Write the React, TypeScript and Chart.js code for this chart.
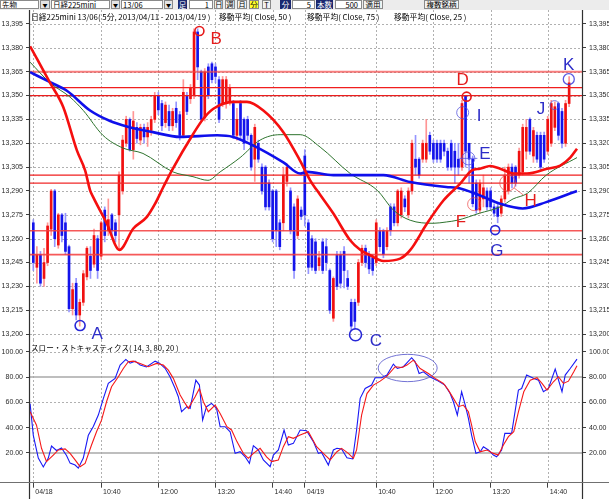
import React, { useEffect, useRef } from "react";
import { Chart, registerables } from "chart.js";

Chart.register(...registerables);

// ---------------- price bars (5-minute) ----------------
const OPEN = [
  13270, 13242, 13250, 13235, 13245, 13266, 13290, 13256, 13275, 13270,
  13255, 13216, 13232, 13212, 13220, 13236, 13249, 13244, 13260, 13249,
  13278, 13265, 13275, 13270, 13275, 13290, 13320, 13335, 13316, 13330,
  13322, 13330, 13324, 13328, 13335, 13350, 13345, 13333, 13340, 13331,
  13342, 13338, 13325, 13350, 13348, 13350, 13390, 13365, 13336, 13368,
  13370, 13368, 13360, 13345, 13345, 13346, 13345, 13325, 13345, 13335,
  13335, 13325, 13310, 13320, 13305, 13305, 13295, 13290, 13290, 13270,
  13270, 13296, 13290, 13280, 13262, 13278, 13312, 13270, 13260, 13258,
  13243, 13258, 13255, 13240, 13210, 13250, 13250, 13252, 13235, 13220,
  13220, 13220, 13245, 13254, 13250, 13248, 13245, 13265, 13265, 13255,
  13280, 13280, 13270, 13275, 13285, 13275, 13290, 13310, 13310, 13310,
  13310, 13325, 13320, 13320, 13320, 13320, 13315, 13320, 13315, 13310,
  13305, 13350, 13320, 13310, 13295, 13278, 13285, 13290, 13290, 13280,
  13280, 13276, 13285, 13290, 13305, 13305, 13300, 13302, 13315, 13335,
  13312, 13325, 13325, 13325, 13315, 13320, 13330, 13345, 13340, 13320,
  13345,
];
const HIGH = [
  13272, 13255, 13252, 13254, 13270, 13291, 13291, 13276, 13276, 13276,
  13256, 13232, 13235, 13222, 13240, 13255, 13255, 13266, 13262, 13271,
  13280, 13285, 13276, 13272, 13302, 13325, 13337, 13336, 13340, 13333,
  13332, 13332, 13333, 13337, 13352, 13352, 13347, 13346, 13344, 13342,
  13346, 13340, 13360, 13352, 13357, 13392, 13392, 13366, 13367, 13370,
  13371, 13370, 13362, 13362, 13362, 13357, 13347, 13342, 13347, 13336,
  13337, 13326, 13332, 13322, 13307, 13306, 13297, 13291, 13291, 13272,
  13305, 13307, 13292, 13282, 13287, 13280, 13316, 13272, 13262, 13260,
  13252, 13260, 13260, 13241, 13236, 13252, 13252, 13255, 13240, 13222,
  13222, 13247, 13256, 13256, 13252, 13250, 13272, 13267, 13266, 13267,
  13282, 13282, 13291, 13292, 13287, 13292, 13322, 13325, 13311, 13322,
  13335, 13327, 13322, 13322, 13322, 13322, 13317, 13322, 13320, 13320,
  13347, 13350, 13320, 13312, 13297, 13297, 13300, 13292, 13292, 13282,
  13282, 13287, 13305, 13307, 13307, 13306, 13317, 13332, 13335, 13336,
  13330, 13327, 13327, 13327, 13337, 13347, 13346, 13346, 13342, 13347,
  13362,
];
const LOW = [
  13240, 13232, 13230, 13230, 13243, 13262, 13255, 13254, 13258, 13250,
  13214, 13212, 13209, 13205, 13218, 13234, 13235, 13242, 13235, 13247,
  13258, 13262, 13262, 13258, 13253, 13288, 13318, 13315, 13310, 13320,
  13319, 13320, 13318, 13325, 13333, 13338, 13328, 13330, 13328, 13328,
  13330, 13322, 13324, 13338, 13345, 13348, 13360, 13333, 13334, 13348,
  13358, 13358, 13333, 13343, 13342, 13344, 13323, 13322, 13323, 13316,
  13322, 13303, 13296, 13308, 13288, 13278, 13278, 13258, 13255, 13253,
  13265, 13293, 13263, 13235, 13260, 13272, 13268, 13238, 13240, 13238,
  13240, 13238, 13240, 13213, 13208, 13228, 13229, 13229, 13228, 13202,
  13203, 13218, 13243, 13242, 13238, 13237, 13243, 13252, 13248, 13253,
  13262, 13268, 13268, 13273, 13277, 13273, 13288, 13300, 13298, 13308,
  13308, 13313, 13308, 13308, 13308, 13312, 13303, 13303, 13295, 13300,
  13303, 13305, 13295, 13280, 13276, 13276, 13280, 13278, 13278, 13274,
  13270, 13274, 13283, 13288, 13292, 13293, 13298, 13300, 13310, 13313,
  13308, 13308, 13303, 13308, 13313, 13318, 13328, 13322, 13317, 13318,
  13343,
];
const CLOSE = [
  13245, 13250, 13232, 13245, 13268, 13290, 13260, 13275, 13262, 13252,
  13216, 13228, 13212, 13220, 13238, 13254, 13240, 13262, 13240, 13270,
  13262, 13272, 13265, 13262, 13300, 13322, 13335, 13316, 13334, 13323,
  13330, 13324, 13330, 13335, 13350, 13341, 13331, 13344, 13331, 13340,
  13333, 13325, 13352, 13340, 13355, 13390, 13368, 13335, 13365, 13350,
  13360, 13362, 13335, 13360, 13360, 13355, 13325, 13335, 13325, 13320,
  13325, 13305, 13330, 13310, 13290, 13280, 13280, 13260, 13265, 13255,
  13300, 13305, 13265, 13240, 13285, 13274, 13275, 13242, 13242, 13240,
  13248, 13240, 13245, 13215, 13235, 13230, 13232, 13240, 13230, 13205,
  13208, 13245, 13254, 13245, 13241, 13240, 13270, 13255, 13250, 13265,
  13265, 13270, 13290, 13290, 13280, 13290, 13320, 13305, 13300, 13320,
  13320, 13315, 13310, 13310, 13310, 13315, 13305, 13305, 13305, 13305,
  13345, 13315, 13310, 13282, 13278, 13295, 13292, 13280, 13280, 13276,
  13274, 13285, 13300, 13305, 13295, 13295, 13315, 13330, 13330, 13315,
  13328, 13310, 13305, 13310, 13335, 13345, 13343, 13325, 13320, 13345,
  13358,
];

// ---------------- moving averages (bar position, value) ----------------
const MA25_IDX = [-0.9, 4.7, 8.4, 12.2, 14.5, 15.9, 16.8, 20.6, 24.1, 28, 31.8, 34.1, 36.4, 38.8, 44.8, 47.6, 50.4, 56, 59.8, 64.4, 70, 74.7, 77.5, 79.4, 84, 88.7, 91.5, 94.3, 98, 102.7, 105.5, 110.2, 114.8, 119.5, 122.8, 125, 127.9, 130.7, 134.5, 138.2, 143.8, 147.5, 150.3, 152.2];
const MA25 = [13381, 13358, 13342.7, 13315.5, 13303, 13290.4, 13286, 13269.5, 13253, 13266.4, 13273.7, 13282, 13292.5, 13303, 13326, 13335.4, 13341.7, 13346, 13346, 13340.6, 13327, 13309, 13296.7, 13290.4, 13275.8, 13259, 13253, 13249.6, 13246, 13247.5, 13252.8, 13269.5, 13284, 13294.6, 13303, 13304, 13305.7, 13304, 13301, 13301, 13304, 13306, 13311, 13316.6];

const MA50_IDX = [-0.9, 4.7, 10.3, 14, 19.5, 25.1, 30.7, 39.1, 44.7, 48.9, 52.3, 57.9, 63.5, 69.1, 74.7, 80.3, 88.7, 96.3, 100.8, 105.5, 112, 115.6, 118.7, 124.9, 130.7, 134.3, 138.3, 143.6, 152.2];
const MA50 = [13371, 13358, 13349, 13340.6, 13325, 13317, 13313.6, 13302, 13299, 13296.7, 13302, 13311, 13322, 13325.4, 13325.4, 13317.6, 13301, 13290.4, 13278, 13271.6, 13269.7, 13270.5, 13271.6, 13276, 13280, 13285, 13288.5, 13300, 13311];

const MA75_IDX = [-0.9, 4.7, 9.4, 15.9, 21.5, 26.2, 33.5, 41.1, 51.5, 55.9, 61.5, 70, 74.7, 76.6, 84, 98, 105.5, 115.6, 118.6, 124.9, 130.7, 137, 143.6, 152.2];
const MA75 = [13364.7, 13358.4, 13353, 13340.6, 13334, 13330.6, 13327, 13324, 13325, 13324, 13318.7, 13308, 13301, 13302, 13300, 13300, 13295.6, 13292.5, 13292, 13287.3, 13282, 13279, 13283, 13290];

// ---------------- slow stochastics ----------------
const K_IDX = [-0.9, 0, 1.4, 2.8, 4.2, 5.1, 6.5, 7.9, 9.3, 10.3, 11.7, 12.6, 14, 15.4, 16.8, 18.2, 19.6, 21, 22.9, 24.3, 25.9, 27.1, 28.5, 29.9, 31.7, 34.1, 35.3, 36.9, 38.3, 39.7, 40.6, 41.5, 43, 43.9, 45.5, 46.5, 47.4, 48.5, 49.9, 51.3, 52.3, 53.7, 55.1, 56.5, 57.9, 59.3, 60.5, 61.6, 63, 64.4, 66.3, 67.2, 68.6, 70.2, 71.4, 72.8, 74.7, 76.5, 78.4, 79.8, 80.7, 82.6, 84, 85, 86.3, 87.8, 89.4, 90.5, 91.5, 92.9, 94.7, 95.7, 97.5, 99, 100.8, 101.9, 103.6, 105.9, 106.9, 108, 109.2, 111, 112.9, 115.2, 116.7, 117.6, 118.7, 119.9, 120.9, 121.8, 122.7, 123.9, 125.1, 126, 127.4, 128.8, 129.7, 131.1, 132, 133.9, 135.8, 136.7, 138.1, 140, 141.4, 142.8, 144.2, 146.1, 148, 148.9, 150.3, 152.2];
const K_VAL = [59, 34, 16, 9, 16, 25.5, 22, 24, 18, 12, 10.5, 8, 16, 34, 41, 50, 63, 75, 79, 89.5, 94, 91, 92.6, 89.5, 88, 92.6, 91, 87, 80, 71, 64.5, 52.6, 56.6, 55.3, 77.6, 73.7, 46, 56.6, 59.2, 55.3, 40.8, 40.8, 36.8, 19.7, 21, 17, 11.8, 25.8, 22.4, 14.5, 9.2, 18.4, 22.4, 38.2, 26.3, 27.6, 38.2, 37.6, 29, 19.7, 20.5, 10.5, 22.4, 23.7, 23.2, 16.3, 15.3, 38.2, 63.2, 71, 73.7, 79.5, 79.5, 81.6, 90.3, 86.8, 88.2, 95.3, 92.1, 82.9, 84.2, 80.3, 77.6, 73.7, 67, 60.5, 50, 68.4, 58, 47.4, 34.2, 19.7, 21, 25, 22.4, 18.4, 17, 22.4, 35.5, 35.5, 69.7, 71, 81.6, 79, 77.6, 68.4, 71, 86.3, 68.4, 81.6, 86.8, 94.2];
const D_IDX = [-0.9, 0.9, 2.3, 3.7, 5.6, 7, 8.9, 10.3, 11.7, 13.1, 14.5, 16.3, 17.7, 19.1, 20.5, 21.9, 23.8, 25.2, 26.6, 28, 29.9, 32.2, 34.5, 36.4, 37.8, 39.2, 41.1, 42.5, 43.4, 45.3, 46.5, 47.6, 49, 50.9, 52.3, 54.2, 55.5, 57, 58.8, 60.2, 61.6, 63.5, 65.3, 66.7, 68.6, 70, 71.4, 72.8, 74.7, 77, 79.3, 81.7, 83.1, 85, 86.3, 88.2, 89.6, 90.5, 91.9, 93.4, 95.2, 97.1, 99, 101.3, 103.2, 104.6, 106.4, 108.3, 110.6, 112.5, 114.8, 116.2, 117.6, 119, 120.4, 121.8, 122.7, 123.7, 125.1, 127, 128.8, 130.2, 131.6, 133, 134.5, 135.8, 137.3, 139.1, 141, 142.4, 143.8, 145.6, 147, 148.4, 149.8, 151.3, 152.2];
const D_VAL = [52.6, 42, 23.7, 13.2, 18.4, 22.4, 23.2, 19.7, 14.5, 9.2, 11.8, 26.3, 36.8, 46, 60.5, 72.4, 80.3, 86.8, 92.1, 92.6, 90.8, 88.2, 90.8, 89.5, 85.5, 79, 65.8, 59.2, 55.3, 64.5, 71, 60.5, 52.6, 57.9, 51.3, 40.8, 38.2, 29, 19.7, 15.8, 19.7, 23.7, 17, 13.2, 14.5, 25, 32.9, 31.6, 34.2, 36.8, 25, 18.4, 14.5, 21, 23.7, 19.7, 15.8, 22.4, 50, 67, 73.7, 76.8, 80.8, 88.2, 87.6, 89.5, 93.4, 86.8, 82.9, 79, 75, 69.7, 63.2, 56.6, 57.9, 52.6, 42, 29, 21, 22.4, 19.7, 18.4, 26.3, 32.9, 36.8, 52.6, 68.4, 77.6, 79.5, 75, 69.7, 76.3, 80.3, 75, 76.8, 84.2, 88.9];

// ---------------- axes ----------------
const TIME_TICK_IDX = [0, 19, 35, 51, 67, 76, 96, 112, 128, 144];
const TIME_TICK_TEXT = ["04/18", "10:40", "12:00", "13:20", "14:40", "04/19", "10:40", "12:00", "13:20", "14:40"];
const PRICE_TICKS = [13200, 13215, 13230, 13245, 13260, 13275, 13290, 13305, 13320, 13335, 13350, 13365, 13380, 13395];
const STOCH_TICKS = [20, 40, 60, 80, 100];
const STOCH_SOLID = [20, 80];

// horizontal reference lines (price)
const HLINE_VALUES = [13365, 13355, 13350, 13300, 13295, 13265, 13250];

// annotations
const MARK_TEXT = ["A", "B", "C", "D", "E", "F", "G", "H", "I", "J", "K"];
const MARK_IDX = [17.9, 51.2, 95.9, 120.2, 126.4, 119.7, 129.8, 139.2, 124.8, 142.1, 149.9];
const MARK_VAL = [13200.7, 13386, 13196.3, 13360, 13314, 13271, 13252.9, 13284, 13337.5, 13341.8, 13369.8];
const RING_IDX = [13.1, 46.5, 90.2, 121.3, 120.2, 121.8, 123.4, 129.3, 132.8, 145.9, 149.9];
const RING_VAL = [13205.4, 13390.6, 13199.6, 13349.3, 13339.3, 13310.5, 13281.7, 13265.4, 13295, 13344, 13360.3];
const ELLIPSE_IDX = 104.8;
const ELLIPSE_VAL = 87.2;

// ---------------- styles / layout ----------------
const X_MIN = -0.924;
const X_MAX = 153.6;
const P_MIN = 13196.3;
const P_MAX = 13403.8;
const S_MIN = -2.69;
const S_MAX = 109.33;
const AX_FONT = { family: '"Liberation Sans", Arial, sans-serif', size: 7 };
const RED = "rgb(240,16,16)";
const BLUE = "rgb(20,20,235)";
const MARK_COLOR = ["b", "r", "b", "r", "b", "r", "b", "r", "b", "b", "b"];
const RING_STYLE = [
  { r: 5, c: "rgb(40,40,215)", w: 1.6 },
  { r: 4.5, c: "rgb(230,25,25)", w: 1.6 },
  { r: 6, c: "rgb(40,40,215)", w: 1.6 },
  { r: 4.5, c: "rgb(230,25,25)", w: 1.6 },
  { r: 6, c: "rgba(80,80,220,0.75)", w: 1 },
  { r: 6.5, c: "rgba(80,80,220,0.75)", w: 1 },
  { r: 6.5, c: "rgba(235,70,70,0.7)", w: 1 },
  { r: 4.5, c: "rgb(40,40,215)", w: 1.6 },
  { r: 8, c: "rgba(235,70,70,0.7)", w: 1 },
  { r: 4.5, c: "rgba(80,80,220,0.75)", w: 1 },
  { r: 5.5, c: "rgba(60,60,220,0.85)", w: 1.3 },
];
const HLINE_STYLE = [
  { c: "rgba(245,70,70,0.7)", w: 2 },
  { c: "rgb(240,30,30)", w: 1.2 },
  { c: "rgb(235,30,30)", w: 1.2 },
  { c: "rgb(240,30,30)", w: 1.2 },
  { c: "rgb(240,40,40)", w: 1.3 },
  { c: "rgba(245,60,60,0.85)", w: 1.6 },
  { c: "rgba(245,60,60,0.85)", w: 1.6 },
];

function line(ctx: any, x1: number, y1: number, x2: number, y2: number) {
  ctx.beginPath();
  ctx.moveTo(x1, y1);
  ctx.lineTo(x2, y2);
  ctx.stroke();
}

function zeroPad(s: any) {
  s.paddingTop = 0;
  s.paddingBottom = 0;
  s.paddingLeft = 0;
  s.paddingRight = 0;
}

const upperPlugin = {
  id: "upperDeco",
  beforeDatasetsDraw(chart: any) {
    const { ctx, chartArea: a, scales } = chart;
    const x = scales.x, y = scales.y;
    ctx.save();
    ctx.strokeStyle = "#b0b0b0";
    ctx.lineWidth = 1;
    ctx.setLineDash([2, 2]);
    for (const t of TIME_TICK_IDX) {
      const px = Math.round(x.getPixelForValue(t)) + 0.5;
      line(ctx, px, a.top, px, a.bottom);
    }
    for (const v of PRICE_TICKS) {
      const py = Math.round(y.getPixelForValue(v)) + 0.5;
      line(ctx, a.left, py, a.right, py);
    }
    ctx.restore();
  },
  afterDraw(chart: any) {
    const { ctx, chartArea: a, scales } = chart;
    const x = scales.x, y = scales.y;
    ctx.save();
    ctx.strokeStyle = "#303030";
    ctx.lineWidth = 1.2;
    line(ctx, a.left - 0.5, 0, a.left - 0.5, a.bottom);
    line(ctx, a.right + 0.5, 0, a.right + 0.5, a.bottom);
    RING_IDX.forEach((ri, i) => {
      const st = RING_STYLE[i];
      const cx = x.getPixelForValue(ri);
      const cy = y.getPixelForValue(RING_VAL[i]);
      ctx.strokeStyle = st.c;
      ctx.lineWidth = st.w;
      ctx.beginPath();
      ctx.arc(cx, cy, st.r, 0, Math.PI * 2);
      ctx.stroke();
      if (i === 5) {
        line(ctx, cx - 9, cy, cx + 9, cy);
      }
      if (i === 8) {
        const tx = x.getPixelForValue(MARK_IDX[7]);
        const ty = y.getPixelForValue(MARK_VAL[7]);
        const dx = tx - cx, dy = ty - cy;
        const len = Math.hypot(dx, dy);
        line(ctx, cx + (dx / len) * st.r, cy + (dy / len) * st.r, tx - (dx / len) * 9, ty - (dy / len) * 9);
      }
    });
    ctx.font = '17px "Liberation Sans", Arial, sans-serif';
    ctx.textAlign = "center";
    ctx.textBaseline = "middle";
    MARK_TEXT.forEach((t, i) => {
      ctx.fillStyle = MARK_COLOR[i] === "r" ? "rgb(228,28,28)" : "rgb(45,45,200)";
      ctx.fillText(t, x.getPixelForValue(MARK_IDX[i]), y.getPixelForValue(MARK_VAL[i]) + 1);
    });
    ctx.restore();
  },
};

const lowerPlugin = {
  id: "lowerDeco",
  beforeDatasetsDraw(chart: any) {
    const { ctx, chartArea: a, scales } = chart;
    const x = scales.x, y = scales.y;
    ctx.save();
    ctx.strokeStyle = "#b0b0b0";
    ctx.lineWidth = 1;
    ctx.setLineDash([2, 2]);
    for (const t of TIME_TICK_IDX) {
      const px = Math.round(x.getPixelForValue(t)) + 0.5;
      line(ctx, px, a.top, px, a.bottom);
    }
    for (const v of STOCH_TICKS) {
      if (STOCH_SOLID.includes(v)) continue;
      const py = Math.round(y.getPixelForValue(v)) + 0.5;
      line(ctx, a.left, py, a.right, py);
    }
    ctx.setLineDash([]);
    ctx.strokeStyle = "#a8a8a8";
    ctx.lineWidth = 1.5;
    for (const v of STOCH_SOLID) {
      const py = y.getPixelForValue(v);
      line(ctx, a.left, py, a.right, py);
    }
    ctx.restore();
  },
  afterDraw(chart: any) {
    const { ctx, chartArea: a, scales, width, height } = chart;
    const x = scales.x, y = scales.y;
    ctx.save();
    ctx.strokeStyle = "#303030";
    ctx.lineWidth = 1.2;
    line(ctx, a.left - 0.5, 0, a.left - 0.5, height);
    line(ctx, a.right + 0.5, 0, a.right + 0.5, height);
    ctx.strokeStyle = "#707070";
    ctx.lineWidth = 1;
    line(ctx, 0, Math.round(a.bottom) + 0.5, width, Math.round(a.bottom) + 0.5);
    const cx = x.getPixelForValue(ELLIPSE_IDX);
    const cy = y.getPixelForValue(ELLIPSE_VAL);
    const rx = x.getPixelForValue(ELLIPSE_IDX + 8.26) - cx;
    const ry = cy - y.getPixelForValue(ELLIPSE_VAL + 10.8);
    ctx.strokeStyle = "rgba(90,90,205,0.85)";
    ctx.lineWidth = 1;
    ctx.beginPath();
    ctx.ellipse(cx, cy, rx, ry, 0, 0, Math.PI * 2);
    ctx.stroke();
    ctx.restore();
  },
};

function yAxis(pos: "left" | "right", min: number, max: number, ticks: number[], fmt: (v: number) => string) {
  return {
    type: "linear",
    position: pos,
    min,
    max,
    afterBuildTicks: (s: any) => {
      s.ticks = ticks.map((v) => ({ value: v }));
    },
    afterFit: (s: any) => {
      s.width = pos === "left" ? 30 : 27;
      zeroPad(s);
    },
    ticks: { font: AX_FONT, color: "#2a2a2a", padding: 3, callback: (v: any) => fmt(Number(v)) },
    grid: { drawOnChartArea: false, drawTicks: true, tickLength: 4, tickColor: "#404040", tickWidth: 1 },
    border: { display: false },
  };
}

const priceFmt = (v: number) => v.toLocaleString("en-US");
const stochFmt = (v: number) => v.toFixed(2);

function maLine(xs: number[], ys: number[], color: string, width: number, order: number) {
  return {
    type: "line",
    data: xs.map((xv, i) => ({ x: xv, y: ys[i] })),
    borderColor: color,
    borderWidth: width,
    pointRadius: 0,
    cubicInterpolationMode: "monotone",
    fill: false,
    order,
  };
}

const TOOLBAR = [
  { t: "先物", l: 0, w: 39, k: "field" },
  { t: "▼", l: 40, w: 10, k: "arrow" },
  { t: "日経225mini", l: 51, w: 59, k: "field" },
  { t: "▼", l: 111, w: 9, k: "arrow" },
  { t: "13/06", l: 121, w: 42, k: "field" },
  { t: "▼", l: 164, w: 9, k: "arrow" },
  { t: "足", l: 178, w: 9, k: "navy" },
  { t: "1", l: 189, w: 24, k: "num" },
  { t: "日", l: 214, w: 9, k: "btn" },
  { t: "週", l: 225, w: 10, k: "btn" },
  { t: "月", l: 237, w: 10, k: "btn" },
  { t: "分", l: 249, w: 10, k: "yel" },
  { t: "T", l: 262, w: 9, k: "btn" },
  { t: "分", l: 280, w: 11, k: "navy" },
  { t: "5", l: 292, w: 23, k: "num" },
  { t: "本数", l: 316, w: 17, k: "navy" },
  { t: "500", l: 335, w: 27, k: "num" },
  { t: "適用", l: 363, w: 20, k: "btn" },
  { t: "複数銘柄", l: 424, w: 35, k: "btn" },
];

function toolStyle(k: string, l: number, w: number): React.CSSProperties {
  const base: React.CSSProperties = {
    position: "absolute",
    left: l,
    top: 0,
    width: w,
    height: 9,
    lineHeight: "9px",
    fontSize: 7.5,
    boxSizing: "border-box",
    whiteSpace: "pre",
    overflow: "hidden",
    color: "#000",
  };
  if (k === "field") return { ...base, background: "#fff", border: "1px solid #8a8a8a", paddingLeft: 1, lineHeight: "7px" };
  if (k === "num") return { ...base, background: "#fff", border: "1px solid #8a8a8a", textAlign: "right", paddingRight: 3, lineHeight: "7px" };
  if (k === "arrow") return { ...base, background: "#e4e4e4", border: "1px solid #8a8a8a", textAlign: "center", fontSize: 5, lineHeight: "7px" };
  if (k === "navy") return { ...base, background: "#1a2870", color: "#fff", textAlign: "center" };
  if (k === "yel") return { ...base, background: "#ffff30", border: "1px solid #8a8a8a", textAlign: "center", lineHeight: "7px" };
  return { ...base, background: "#f2f2f2", border: "1px solid #8a8a8a", textAlign: "center", lineHeight: "7px" };
}

export default function App() {
  const upRef = useRef<HTMLCanvasElement>(null);
  const lowRef = useRef<HTMLCanvasElement>(null);

  useEffect(() => {
    const idx = OPEN.map((_, i) => i);
    const up = (i: number) => CLOSE[i] >= OPEN[i];

    const upper = new Chart(upRef.current as HTMLCanvasElement, {
      type: "bar",
      data: {
        datasets: [
          {
            type: "bar",
            data: idx.map((i) => ({ x: i, y: [LOW[i], HIGH[i]] })),
            backgroundColor: idx.map((i) => (up(i) ? "rgba(255,130,130,0.85)" : "rgba(130,130,255,0.85)")),
            barThickness: 1,
            grouped: false,
            borderWidth: 0,
            order: 20,
          } as any,
          {
            type: "bar",
            data: idx.map((i) => ({ x: i, y: [OPEN[i], CLOSE[i]] })),
            backgroundColor: idx.map((i) => (up(i) ? RED : BLUE)),
            barThickness: 2,
            grouped: false,
            borderWidth: 0,
            minBarLength: 1,
            order: 19,
          } as any,
          ...HLINE_VALUES.map((v, i) => ({
            type: "line",
            data: [
              { x: X_MIN, y: v },
              { x: X_MAX, y: v },
            ],
            borderColor: HLINE_STYLE[i].c,
            borderWidth: HLINE_STYLE[i].w,
            pointRadius: 0,
            fill: false,
            order: 10,
          })) as any,
          maLine(MA50_IDX, MA50, "rgb(45,115,45)", 1, 3) as any,
          maLine(MA75_IDX, MA75, "rgb(15,15,235)", 2.6, 2) as any,
          maLine(MA25_IDX, MA25, "rgb(245,15,15)", 2.6, 1) as any,
        ],
      },
      options: {
        animation: false,
        responsive: false,
        layout: { padding: { top: 0, bottom: 10, left: 0, right: 0 } },
        plugins: { legend: { display: false }, tooltip: { enabled: false } },
        scales: {
          x: { type: "linear", min: X_MIN, max: X_MAX, offset: false, display: false },
          y: yAxis("left", P_MIN, P_MAX, PRICE_TICKS, priceFmt),
          y2: yAxis("right", P_MIN, P_MAX, PRICE_TICKS, priceFmt),
        } as any,
      },
      plugins: [upperPlugin],
    } as any);

    const lower = new Chart(lowRef.current as HTMLCanvasElement, {
      type: "line",
      data: {
        datasets: [
          {
            data: K_IDX.map((xv, i) => ({ x: xv, y: K_VAL[i] })),
            borderColor: "rgb(25,25,245)",
            borderWidth: 1.1,
            pointRadius: 0,
            fill: false,
            order: 2,
          },
          {
            data: D_IDX.map((xv, i) => ({ x: xv, y: D_VAL[i] })),
            borderColor: "rgb(245,25,25)",
            borderWidth: 1.1,
            pointRadius: 0,
            fill: false,
            order: 1,
          },
        ],
      },
      options: {
        animation: false,
        responsive: false,
        layout: { padding: 0 },
        plugins: { legend: { display: false }, tooltip: { enabled: false } },
        scales: {
          x: {
            type: "linear",
            min: X_MIN,
            max: X_MAX,
            offset: false,
            position: "bottom",
            afterBuildTicks: (s: any) => {
              s.ticks = TIME_TICK_IDX.map((v) => ({ value: v }));
            },
            afterFit: (s: any) => {
              s.height = 17.3;
              zeroPad(s);
            },
            ticks: {
              autoSkip: false,
              maxRotation: 0,
              minRotation: 0,
              align: "start",
              padding: 0,
              font: AX_FONT,
              color: "#2a2a2a",
              callback: (v: any) => {
                const k = TIME_TICK_IDX.indexOf(Number(v));
                return k >= 0 ? " " + TIME_TICK_TEXT[k] : "";
              },
            },
            grid: { drawOnChartArea: false, drawTicks: true, tickLength: 6, tickColor: "#404040" },
            border: { display: false },
          },
          y: yAxis("left", S_MIN, S_MAX, STOCH_TICKS, stochFmt),
          y2: yAxis("right", S_MIN, S_MAX, STOCH_TICKS, stochFmt),
        } as any,
      },
      plugins: [lowerPlugin],
    } as any);

    return () => {
      upper.destroy();
      lower.destroy();
    };
  }, []);

  const cjk = '"Noto Sans CJK JP", "Liberation Sans", sans-serif';
  const hdr: React.CSSProperties = { position: "absolute", top: 12, fontSize: 7.8, lineHeight: "9px", whiteSpace: "pre", color: "#000" };

  return (
    <div
      style={{
        position: "absolute",
        left: 0,
        top: 0,
        width: 609,
        height: 499,
        overflow: "hidden",
        background: "#fff",
        fontFamily: cjk,
      }}
    >
      <div style={{ position: "absolute", left: 0, top: 0, width: 609, height: 10, background: "#ececec" }}>
        {TOOLBAR.map((b, i) => (
          <div key={i} style={toolStyle(b.k, b.l, b.w)}>
            {b.t}
          </div>
        ))}
      </div>
      <canvas
        ref={lowRef}
        width={609}
        height={159}
        style={{ position: "absolute", left: 0, top: 340, width: 609, height: 159 }}
      />
      <canvas
        ref={upRef}
        width={609}
        height={340}
        style={{ position: "absolute", left: 0, top: 10, width: 609, height: 340 }}
      />
      <div style={{ ...hdr, left: 31 }}>日経225mini 13/06( 5分, 2013/04/11 - 2013/04/19 )</div>
      <div style={{ ...hdr, left: 219 }}>移動平均( Close, 50 )</div>
      <div style={{ ...hdr, left: 307 }}>移動平均( Close, 75 )</div>
      <div style={{ ...hdr, left: 394 }}>移動平均( Close, 25 )</div>
      <div style={{ ...hdr, top: 343, left: 31, fontSize: 7.6 }}>スロー・ストキャスティクス( 14, 3, 80, 20 )</div>
    </div>
  );
}
